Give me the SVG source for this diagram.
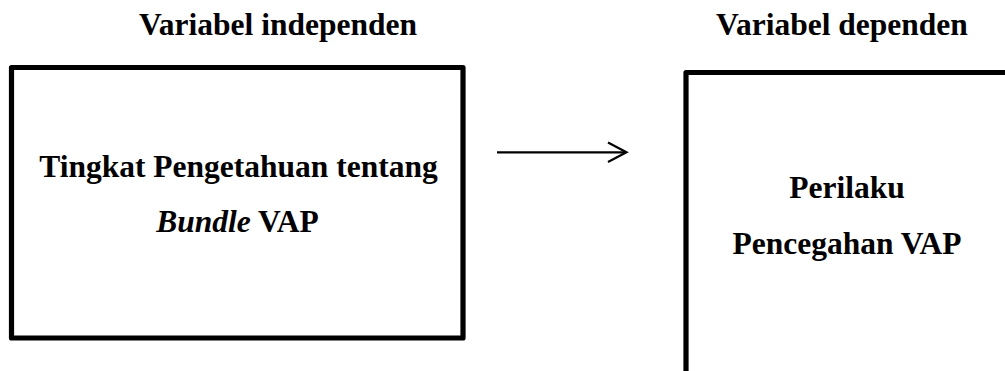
<svg xmlns="http://www.w3.org/2000/svg" width="1005" height="371" viewBox="0 0 1005 371">
<style>
.box{fill:none;stroke:#000;stroke-width:5.2;stroke-linejoin:round}
.t{font-family:"Liberation Serif","Times New Roman",serif;font-weight:bold;font-size:31.5px;fill:#000;text-anchor:middle}
.conn{fill:none;stroke:#000;stroke-width:2.2}
</style>
<rect width="1005" height="371" fill="#fff"/>
<text class="t" x="278" y="35">Variabel independen</text>
<text class="t" x="842" y="35">Variabel dependen</text>
<g id="node-independen">
<rect class="box" x="11.5" y="67.5" width="451.5" height="270.5"/>
<text class="t" x="238.5" y="177">Tingkat Pengetahuan tentang</text>
<text class="t" x="237.5" y="232"><tspan font-style="italic">Bundle</tspan> VAP</text>
</g>
<g id="node-dependen">
<path class="box" d="M686 380 V72.5 H1015"/>
<text class="t" x="847" y="198">Perilaku</text>
<text class="t" x="847" y="254">Pencegahan VAP</text>
</g>
<g id="connectors">
<line class="conn" x1="497" y1="152.3" x2="626" y2="152.3"/>
<polyline class="conn" points="608,142.5 626.5,152.3 608,162"/>
</g>
</svg>
